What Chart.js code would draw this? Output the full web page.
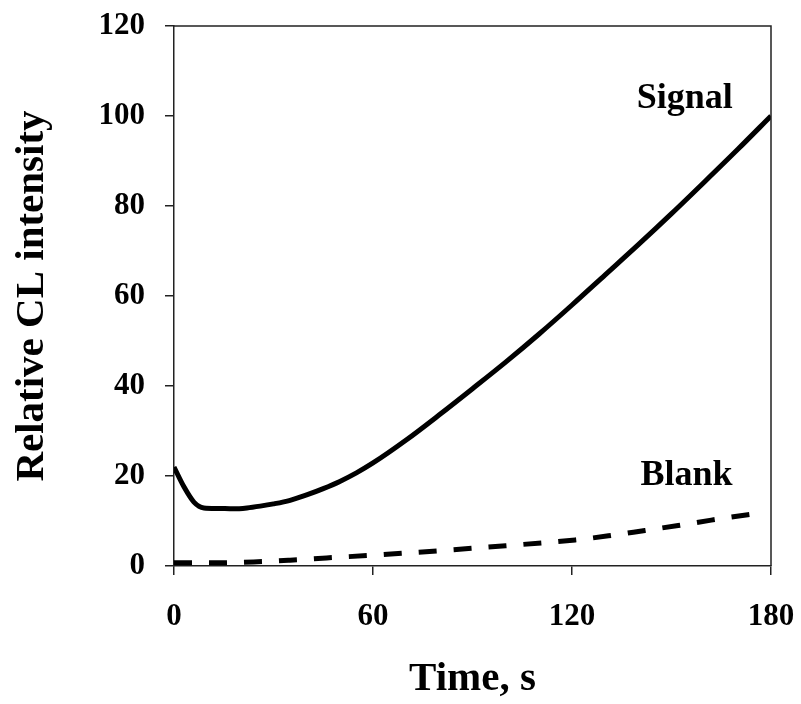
<!DOCTYPE html>
<html>
<head>
<meta charset="utf-8">
<script src="https://cdn.jsdelivr.net/npm/chart.js@4"></script>
<style>
    body { margin: 0; background: #fff; }
    #wrap { width: 801px; height: 704px; }
</style>
</head>
<body>
<div id="wrap"><canvas id="cl-chart" width="801" height="704"></canvas></div>
<script>
// values
const signalTime = [0, 3, 6, 9, 13, 18, 22, 26, 30, 35, 40, 45, 50, 55, 60, 70, 80, 90, 100, 110, 120, 130, 140, 150, 160, 170, 180];
const signalValue = [22, 17.6, 14.2, 12.9, 12.8, 12.7, 12.9, 13.3, 13.8, 14.6, 15.8, 17.2, 18.8, 20.7, 22.9, 28, 33.6, 39.4, 45.3, 51.5, 58, 64.7, 71.4, 78.3, 85.4, 92.6, 100];
const blankTime = [0, 12, 24, 35, 46, 60, 80, 100, 121, 131, 142, 152, 162, 173, 176];
const blankValue = [0.7, 0.7, 0.9, 1.3, 1.8, 2.4, 3.4, 4.5, 5.8, 6.7, 7.9, 9.0, 10.2, 11.4, 11.7];
const noteText = ['Signal', 'Blank'];
const noteTime = [154, 154.5];
const noteValue = [101.8, 18];

const serif = '"Liberation Serif", "Times New Roman", serif';

function toPoints(xs, ys) {
    return xs.map((x, i) => ({x: x, y: ys[i]}));
}

// top and right border of the plot box
const frame = {
    id: 'frame',
    afterDraw(chart) {
        const {ctx, chartArea} = chart;
        ctx.save();
        ctx.strokeStyle = '#222';
        ctx.lineWidth = 1.5;
        ctx.beginPath();
        ctx.moveTo(chartArea.left, chartArea.top);
        ctx.lineTo(chartArea.right, chartArea.top);
        ctx.lineTo(chartArea.right, chartArea.bottom);
        ctx.stroke();
        ctx.restore();
    }
};

const notes = {
    id: 'notes',
    afterDatasetsDraw(chart) {
        const {ctx, scales} = chart;
        ctx.save();
        ctx.fillStyle = '#000';
        ctx.font = 'bold 36px ' + serif;
        ctx.textAlign = 'center';
        ctx.textBaseline = 'alphabetic';
        noteText.forEach((txt, i) => {
            ctx.fillText(txt, scales.x.getPixelForValue(noteTime[i]), scales.y.getPixelForValue(noteValue[i]));
        });
        ctx.restore();
    }
};

new Chart(document.getElementById('cl-chart'), {
    type: 'line',
    data: {
        datasets: [
            {
                label: 'Signal',
                data: toPoints(signalTime, signalValue),
                borderColor: '#000',
                borderWidth: 5,
                pointRadius: 0,
                cubicInterpolationMode: 'monotone',
                fill: false
            },
            {
                label: 'Blank',
                data: toPoints(blankTime, blankValue),
                borderColor: '#000',
                borderWidth: 5,
                borderDash: [18, 17],
                pointRadius: 0,
                cubicInterpolationMode: 'monotone',
                fill: false
            }
        ]
    },
    options: {
        responsive: false,
        animation: false,
        layout: {padding: {top: 26, right: 30, left: 0, bottom: 0}},
        plugins: {
            legend: {display: false},
            tooltip: {enabled: false}
        },
        scales: {
            x: {
                type: 'linear',
                min: 0,
                max: 180,
                afterFit(scale) {
                    scale.height = 138;
                    scale.paddingLeft = 0;
                    scale.paddingRight = 0;
                },
                ticks: {
                    stepSize: 60,
                    padding: 23,
                    color: '#000',
                    font: {family: serif, size: 31, weight: 'bold'}
                },
                grid: {drawOnChartArea: false, drawTicks: true, tickLength: 9, color: '#222', lineWidth: 1.5},
                border: {display: true, color: '#222', width: 1.5},
                title: {
                    display: true,
                    text: 'Time, s',
                    color: '#000',
                    padding: {top: 0, bottom: 0},
                    font: {family: serif, size: 41, weight: 'bold'}
                }
            },
            y: {
                min: 0,
                max: 120,
                afterFit(scale) {
                    scale.width = 174;
                    scale.paddingTop = 0;
                    scale.paddingBottom = 0;
                },
                ticks: {
                    stepSize: 20,
                    padding: 20,
                    color: '#000',
                    font: {family: serif, size: 31, weight: 'bold'}
                },
                grid: {drawOnChartArea: false, drawTicks: true, tickLength: 9, color: '#222', lineWidth: 1.5},
                border: {display: true, color: '#222', width: 1.5},
                title: {
                    display: true,
                    text: 'Relative CL intensity',
                    color: '#000',
                    padding: {top: 8, bottom: 0},
                    font: {family: serif, size: 41, weight: 'bold'}
                }
            }
        }
    },
    plugins: [frame, notes]
});
</script>
</body>
</html>
